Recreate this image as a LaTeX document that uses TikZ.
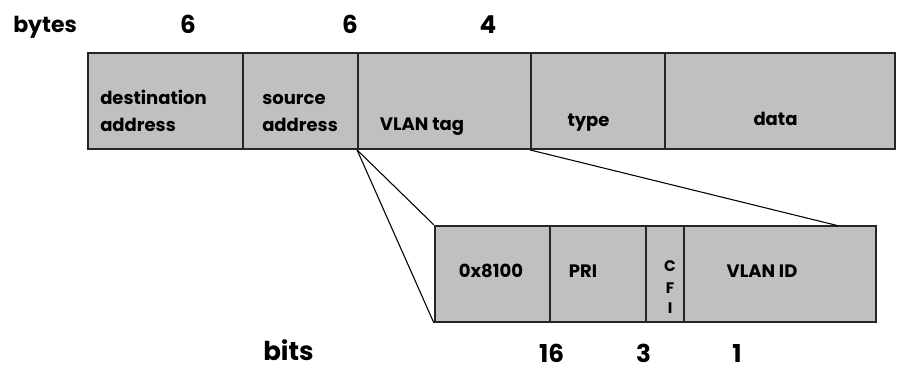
\documentclass[tikz,border=0pt]{standalone}
\usepackage{fontspec}
\setmainfont{Poppins}
\usetikzlibrary{fit}
\begin{document}
\begin{tikzpicture}[x=0.75pt,y=-0.75pt,
  cellsty/.style={draw=black!85, line width=1.4pt, fill={rgb,255:red,192;green,192;blue,192}, inner sep=0pt},
  txt/.style={inner sep=0pt, font=\bfseries\fontsize{13.5pt}{16pt}\selectfont},
  big/.style={inner sep=0pt, font=\bfseries\fontsize{18.5pt}{22pt}\selectfont},
  mid/.style={inner sep=0pt, font=\bfseries\fontsize{16.5pt}{20pt}\selectfont},
  bigger/.style={inner sep=0pt, font=\bfseries\fontsize{19.5pt}{24pt}\selectfont},
  small/.style={inner sep=0pt, font=\bfseries\fontsize{11.5pt}{13pt}\selectfont},
  conn/.style={draw=black, line width=0.8pt}]
\useasboundingbox (0,0) rectangle (898,369);
% top frame
\node[cellsty, fit={(88,53) (243,149)}] (dst) {};
\node[cellsty, fit={(243,53) (358,149)}] (src) {};
\node[cellsty, fit={(358,53) (531,149)}] (vtag) {};
\node[cellsty, fit={(531,53) (665,149)}] (typ) {};
\node[cellsty, fit={(665,53) (895,149)}] (dat) {};
% bottom frame
\node[cellsty, fit={(434.7,225.7) (550,321.7)}] (tpid) {};
\node[cellsty, fit={(550,225.7) (646,321.7)}] (pri) {};
\node[cellsty, fit={(646,225.7) (684.3,321.7)}] (cfi) {};
\node[cellsty, fit={(684.3,225.7) (876.3,321.7)}] (vid) {};
% connectors
\coordinate (vend) at (838,225.7);
\draw[conn] (vtag.south west) -- (tpid.north west);
\draw[conn] (vtag.south west) -- (tpid.south west);
\draw[conn] (typ.south west) -- (vend);
% labels in cells
\node[txt, anchor=base west] (t1a) at (100,104) {destination};
\node[txt, anchor=base west] (t1b) at (100,131) {address};
\node[txt, anchor=base west] (t2a) at (262,104) {source};
\node[txt, anchor=base west] (t2b) at (262,131) {address};
\node[txt, anchor=base] (t3) at (422,130) {VLAN tag};
\node[txt, anchor=base] (t4) at (588.5,126) {type};
\node[txt, anchor=base] (t5) at (775.5,125) {data};
\node[txt, anchor=base] (b1) at (491,277) {0x8100};
\node[txt, anchor=base] (b2) at (583,277) {PRI};
\node[txt, anchor=base] (b4) at (762,277) {VLAN ID};
\node[small, anchor=base] (c1) at (670,271) {C};
\node[small, anchor=base] (c2) at (670,293) {F};
\node[small, anchor=base] (c3) at (670,313) {I};
% top numbers
\node[mid, anchor=base west] (bytes) at (13,32) {bytes};
\node[big, anchor=base] (n1) at (188,33) {6};
\node[big, anchor=base] (n2) at (350,33) {6};
\node[big, anchor=base] (n3) at (488,33) {4};
% bottom numbers
\node[bigger, anchor=base west] (bits) at (263,360) {bits};
\node[big, anchor=base] (m1) at (551.5,362) {16};
\node[big, anchor=base] (m2) at (643.5,362) {3};
\node[big, anchor=base] (m3) at (737,362) {1};
\end{tikzpicture}
\end{document}
